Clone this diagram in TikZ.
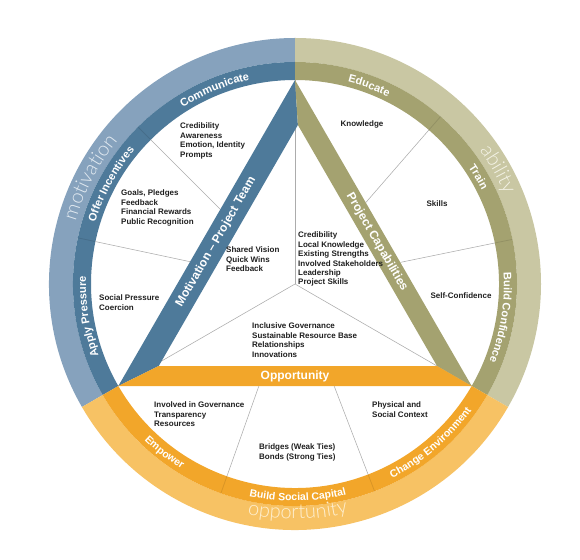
\documentclass[tikz,border=0pt]{standalone}
\usepackage{fontspec}
\setmainfont{Liberation Sans}
\newfontfamily\lightfam{Lato}[UprightFont=* Light]
\usetikzlibrary{decorations.text}
\definecolor{blueL}{HTML}{86A2BD}
\definecolor{blueD}{HTML}{4E7A9A}
\definecolor{oliveL}{HTML}{C9C7A3}
\definecolor{oliveD}{HTML}{A4A270}
\definecolor{orangeL}{HTML}{F7C264}
\definecolor{orangeD}{HTML}{F2A62A}
\definecolor{blueT}{HTML}{E2EAF1}
\definecolor{oliveT}{HTML}{F4F3E6}
\definecolor{orangeT}{HTML}{FEEFD0}
\newcommand{\ringlabelfont}{\bfseries\fontsize{11}{11}\selectfont}
\newcommand{\ringlabelfontb}{\bfseries\fontsize{10.5}{10.5}\selectfont}
\newcommand{\outerlabelfont}{\lightfam\fontsize{20}{20}\selectfont}
\newcommand{\innerfont}{\bfseries\fontsize{8}{9.4}\selectfont}
\newcommand{\bandfont}{\bfseries\fontsize{12}{12}\selectfont}
\newcommand{\ringsector}[5]{\fill[#1] (#2:#4) arc[start angle=#2, end angle=#3, radius=#4] -- (#3:#5) arc[start angle=#3, end angle=#2, radius=#5] -- cycle;}
\tikzset{
  ringlbl/.style={decorate, decoration={text along path, text align=center, text color=white, text={|\ringlabelfont|#1}}},
  ringlblb/.style={decorate, decoration={text along path, text align=center, text color=white, text={|\ringlabelfontb|#1}}},
  outerlbl/.style 2 args={decorate, decoration={text along path, text align=center, text color=#2, text={|\outerlabelfont|#1}}},
  innertxt/.style={anchor=north west, inner sep=0pt, align=left, font=\innerfont, text=black!88},
  bandlbl/.style={inner sep=0pt, font=\bandfont, text=white},
  sepline/.style={draw=gray!65, line width=0.55pt},
  seam/.style={draw=black, opacity=0.10, line width=0.8pt}
}
\begin{document}
\begin{tikzpicture}[x=1pt,y=1pt]
\useasboundingbox (-295,-275) rectangle (285,284);
% rings
\ringsector{blueL}{90}{210}{222}{246}
\ringsector{blueD}{90}{210}{204}{222}
\ringsector{oliveL}{-30}{90}{222}{246}
\ringsector{oliveD}{-30}{90}{204}{222}
\ringsector{orangeL}{210}{330}{222}{246}
\ringsector{orangeD}{210}{330}{204}{222}
% seams in dark ring
\foreach \a in {135,168,49,11.6,250.5,291} {\draw[seam] (\a:204) -- (\a:222);}
% coordinates
\coordinate (O) at (0,0);
\coordinate (A) at (90:204);
\coordinate (B) at (210:204);
\coordinate (C) at (330:204);
\coordinate (IA) at (2.89,159);
\coordinate (IB) at (-136.26,-82);
\coordinate (IC) at (142.03,-82);
% radial separators
\foreach \a [count=\i] in {135,168,49,11.6,250.5,291} {\coordinate (S\i) at (\a:204); \draw[sepline] (S\i) -- (O);}
\fill[white] (A) -- (B) -- (C) -- cycle;
\draw[sepline] (O) -- (A);
\draw[sepline] (O) -- (B);
\draw[sepline] (O) -- (C);
% triangle bands
\fill[blueD] (A) -- (B) -- (IB) -- (IA) -- cycle;
\fill[oliveD] (A) -- (C) -- (IC) -- (IA) -- cycle;
\fill[orangeD] (B) -- (C) -- (IC) -- (IB) -- cycle;
% outer labels
\path[outerlbl={motivation}{blueT}] (200:228) arc[start angle=200, end angle=105, radius=228];
\path[outerlbl={ability}{oliveT}] (60:228) arc[start angle=60, end angle=-1, radius=228];
\path[outerlbl={opportunity}{orangeT}] (230:235) arc[start angle=230, end angle=311.4, radius=235];
% dark ring labels
\path[ringlbl={Communicate}] (135:209) arc[start angle=135, end angle=90, radius=209];
\path[ringlbl={Offer Incentives}] (168:209) arc[start angle=168, end angle=135, radius=209];
\path[ringlbl={Apply Pressure}] (210:209) arc[start angle=210, end angle=168, radius=209];
\path[ringlbl={Educate}] (90:209) arc[start angle=90, end angle=49, radius=209];
\path[ringlbl={Train}] (49:209) arc[start angle=49, end angle=11.6, radius=209];
\path[ringlbl={Build Confidence}] (11.6:209) arc[start angle=11.6, end angle=-30, radius=209];
\path[ringlblb={Empower}] (212:217) arc[start angle=212, end angle=252.5, radius=217];
\path[ringlblb={Build Social Capital}] (250.5:217) arc[start angle=250.5, end angle=291, radius=217];
\path[ringlblb={Change Environment}] (291:217) arc[start angle=291, end angle=330, radius=217];
% band labels
\node[bandlbl, rotate=60] (motiv) at (-79,42) {Motivation – Project Team};
\node[bandlbl, rotate=-60] (capab) at (82,42) {Project Capabilities};
\node[bandlbl] (oppor) at (0,-92) {Opportunity};
% inner texts
\node[innertxt] (t1) at (-115,161) {Credibility\\Awareness\\Emotion, Identity\\Prompts};
\node[innertxt] (t2) at (-174,94) {Goals, Pledges\\Feedback\\Financial Rewards\\Public Recognition};
\node[innertxt] (t3) at (-69,37) {Shared Vision\\Quick Wins\\Feedback};
\node[innertxt] (t4) at (-196,-11) {Social Pressure\\Coercion};
\node[innertxt] (t5) at (3,52) {Credibility\\Local Knowledge\\Existing Strengths\\Involved Stakeholders\\Leadership\\Project Skills};
\node[innertxt, anchor=center] (t6) at (67,160) {Knowledge};
\node[innertxt, anchor=center] (t7) at (142,80) {Skills};
\node[innertxt, anchor=center] (t8) at (166,-12) {Self-Confidence};
\node[innertxt] (t9) at (-43,-39) {Inclusive Governance\\Sustainable Resource Base\\Relationships\\Innovations};
\node[innertxt] (t10) at (-141,-118) {Involved in Governance\\Transparency\\Resources};
\node[innertxt] (t11) at (-36,-160) {Bridges (Weak Ties)\\Bonds (Strong Ties)};
\node[innertxt] (t12) at (77,-118) {Physical and\\Social Context};
\end{tikzpicture}
\end{document}
